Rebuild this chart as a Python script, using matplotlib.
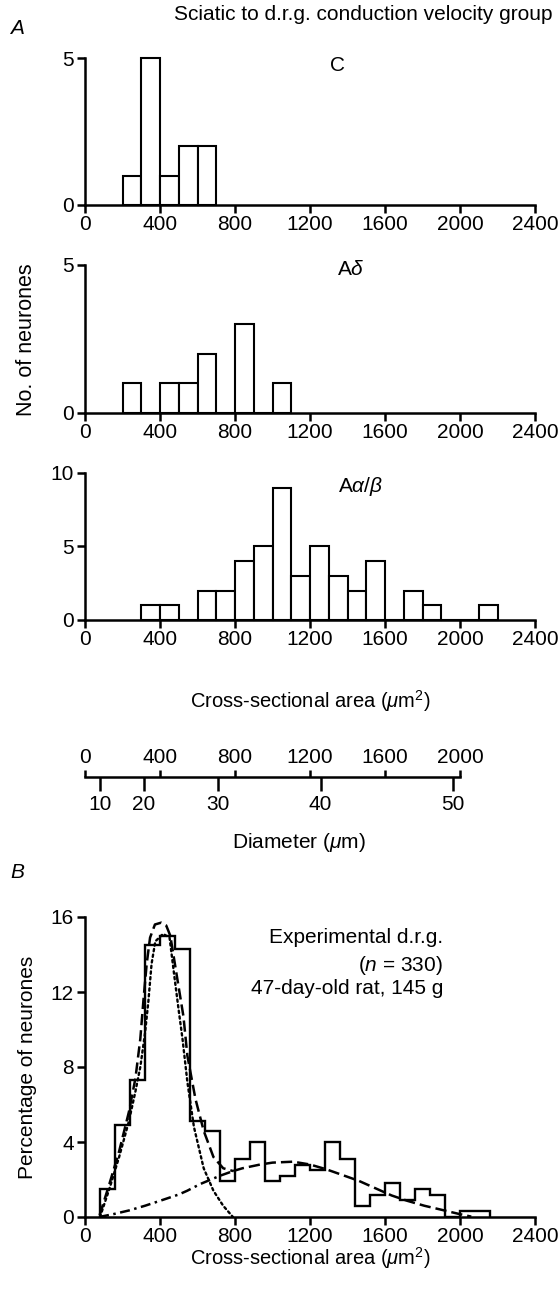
import numpy as np
import matplotlib
matplotlib.use("Agg")
import matplotlib.pyplot as plt

plt.rcParams['font.family'] = ['Liberation Sans', 'DejaVu Sans']
plt.rcParams['mathtext.fontset'] = 'custom'
plt.rcParams['mathtext.rm'] = 'Liberation Sans'
plt.rcParams['mathtext.it'] = 'Liberation Sans:italic'
plt.rcParams['mathtext.bf'] = 'Liberation Sans:bold'

# panel A: counts per 100 um^2 bin (left edges)
c_left = [200, 300, 400, 500, 600]
c_counts = [1, 5, 1, 2, 2]

ad_left = [200, 300, 400, 500, 600, 700, 800, 900, 1000]
ad_counts = [1, 0, 1, 1, 2, 0, 3, 0, 1]

aab_left = [300, 400, 500, 600, 700, 800, 900, 1000, 1100, 1200,
            1300, 1400, 1500, 1600, 1700, 1800, 1900, 2000, 2100]
aab_counts = [1, 1, 0, 2, 2, 4, 5, 9, 3, 5, 3, 2, 4, 0, 2, 1, 0, 0, 1]

area_ticks = [0, 400, 800, 1200, 1600, 2000, 2400]
scale_area = [0, 400, 800, 1200, 1600, 2000]
scale_diam = [10, 20, 30, 40, 50]

# panel B: percentage histogram, 80 um^2 bins
b_edges = list(range(80, 2161, 80))
b_pct = [1.5, 4.9, 7.3, 14.5, 15.0, 14.3, 5.1, 4.6, 1.9, 3.1, 4.0, 1.9, 2.2,
         2.8, 2.5, 4.0, 3.1, 0.6, 1.2, 1.8, 0.9, 1.5, 1.2, 0.0, 0.3, 0.3]

# fitted curves
sum_x = [78, 130, 182, 234, 269, 295, 312, 329, 347, 373, 407, 433, 455,
         494, 525, 546, 589, 633, 685, 737, 790]
sum_y = [0.1, 1.76, 3.5, 5.6, 7.4, 9.5, 11.6, 13.5, 14.9, 15.6, 15.7, 15.55,
         15.0, 12.6, 10.7, 8.6, 6.3, 4.6, 3.2, 2.6, 2.45]

small_x = [80, 130, 182, 234, 269, 295, 320, 338, 355, 375, 416, 451, 477,
           500, 520, 546, 581, 633, 685, 737, 789]
small_y = [0.0, 1.5, 3.2, 5.1, 6.7, 8.0, 9.8, 11.5, 13.5, 14.7, 15.1, 14.9,
           12.8, 11.0, 9.5, 7.2, 4.8, 2.6, 1.4, 0.6, 0.0]

large_x = [75, 150, 235, 320, 405, 500, 545, 615, 720, 790, 840, 935, 1000,
           1110, 1200, 1285, 1370, 1460, 1545, 1635, 1720, 1810, 1895, 2000, 2060]
large_y = [0.0, 0.15, 0.35, 0.6, 0.88, 1.2, 1.4, 1.76, 2.2, 2.45, 2.6, 2.8,
           2.9, 2.95, 2.8, 2.55, 2.25, 1.93, 1.55, 1.15, 0.86, 0.6, 0.4, 0.15, 0.02]

W, H = 560, 1289
fig = plt.figure(figsize=(W / 100, H / 100), dpi=100)

LW = 1.8
FS = 15
RIGHT = 535


def frac(left, top, right, bottom):
    return [left / W, 1 - bottom / H, (right - left) / W, (bottom - top) / H]


def style(ax, ymax, yticks):
    for s in ['top', 'right']:
        ax.spines[s].set_visible(False)
    for s in ['left', 'bottom']:
        ax.spines[s].set_linewidth(LW)
    ax.set_xlim(0, 2400)
    ax.set_ylim(0, ymax)
    ax.set_xticks(area_ticks)
    ax.set_yticks(yticks)
    ax.tick_params(axis='both', width=LW, length=6, labelsize=FS, pad=1)
    ax.tick_params(axis='y', pad=2)


def hist(ax, left, counts):
    ax.bar(left, counts, width=100, align='edge', facecolor='white',
           edgecolor='black', linewidth=1.5, zorder=1, clip_on=False)


ax1 = fig.add_axes(frac(85, 58, RIGHT, 205))
hist(ax1, c_left, c_counts)
style(ax1, 5, [0, 5])
ax1.text(1345, 4.75, 'C', ha='center', va='center', fontsize=FS)

ax2 = fig.add_axes(frac(85, 265, RIGHT, 413))
hist(ax2, ad_left, ad_counts)
style(ax2, 5, [0, 5])
ax2.text(1420, 4.85, r'A$\delta$', ha='center', va='center', fontsize=FS)

ax3 = fig.add_axes(frac(85, 473, RIGHT, 620))
hist(ax3, aab_left, aab_counts)
style(ax3, 10, [0, 5, 10])
ax3.text(1472, 9.05, r'A$\alpha/\beta$', ha='center', va='center', fontsize=FS)

fig.text(10 / W, 1 - 29 / H, 'A', fontsize=FS, style='italic', va='center')
fig.text(553 / W, 1 - 14 / H, 'Sciatic to d.r.g. conduction velocity group',
         ha='right', va='center', fontsize=15)
fig.text(27 / W, 1 - 340 / H, 'No. of neurones', rotation=90,
         ha='center', va='center', fontsize=15.5)
fig.text(310 / W, 1 - 701 / H, r'Cross-sectional area ($\mu$m$^2$)',
         ha='center', va='center', fontsize=14.5)

# area / diameter conversion scale
axs = fig.add_axes([85 / W, 1 - 777 / H, (RIGHT - 85) / W, 0.00001])
axs.set_xlim(0, 2400)
for s in ['top', 'right', 'left']:
    axs.spines[s].set_visible(False)
axs.spines['bottom'].set_linewidth(LW)
axs.spines['bottom'].set_bounds(0, 2000)
axs.set_yticks([])
d = np.array(scale_diam, dtype=float)
axs.set_xticks(np.pi * d ** 2 / 4)
axs.set_xticklabels([str(v) for v in scale_diam])
axs.tick_params(axis='x', length=10, width=LW, labelsize=FS, pad=3)
sec = axs.secondary_xaxis('top')
sec.spines['top'].set_visible(False)
sec.set_xticks(scale_area)
sec.tick_params(axis='x', length=5, width=LW, labelsize=FS, pad=2)
fig.text(299 / W, 1 - 842 / H, r'Diameter ($\mu$m)',
         ha='center', va='center', fontsize=FS)

# panel B
axb = fig.add_axes(frac(85, 917, RIGHT, 1217))
axb.stairs(b_pct, b_edges, color='black', linewidth=1.7, baseline=0)
axb.plot(small_x, small_y, color='black', linestyle=(0, (1, 1.4)),
         linewidth=1.7, dash_capstyle='round')
lx = np.array(large_x)
ly = np.array(large_y)
early = lx <= 790
late = lx >= 790
axb.plot(lx[early], ly[early], color='black', linewidth=1.8,
         linestyle=(0, (4, 1.8, 1, 1.8)))
axb.plot(sum_x, sum_y, color='black', linewidth=1.8, linestyle=(0, (4.5, 2)))
axb.plot(lx[late], ly[late], color='black', linewidth=1.8,
         linestyle=(0, (4.5, 2)))
style(axb, 16, [0, 4, 8, 12, 16])
axb.text(1910, 14.9, 'Experimental d.r.g.', ha='right', va='center', fontsize=FS)
axb.text(1910, 13.4, r'($n$ = 330)', ha='right', va='center', fontsize=FS)
axb.text(1910, 12.2, '47-day-old rat, 145 g', ha='right', va='center', fontsize=FS)

fig.text(10 / W, 1 - 872 / H, 'B', fontsize=FS, style='italic', va='center')
fig.text(28 / W, 1 - 1067 / H, 'Percentage of neurones', rotation=90,
         ha='center', va='center', fontsize=FS)
fig.text(310 / W, 1 - 1258 / H, r'Cross-sectional area ($\mu$m$^2$)',
         ha='center', va='center', fontsize=14.5)

fig.savefig('out.png', dpi=100)
